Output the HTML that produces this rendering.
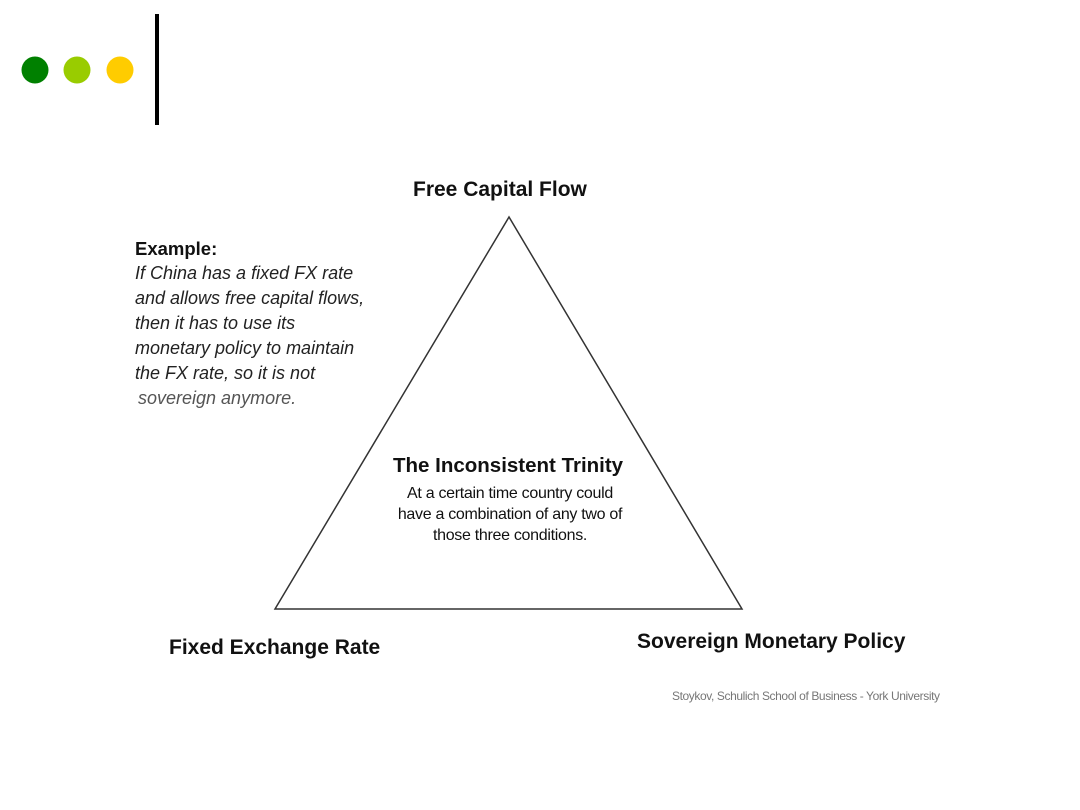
<!DOCTYPE html>
<html><head><style>
body{margin:0;width:1080px;height:810px;background:#fff;position:relative;overflow:hidden;font-family:"Liberation Sans",sans-serif}
.t{position:absolute;white-space:nowrap;color:#111}
.b{font-weight:bold;font-size:21px}
.i{font-style:italic;font-size:18px;line-height:25px;color:#222}
</style></head><body>
<svg width="1080" height="810" style="position:absolute;left:0;top:0">
<circle cx="35" cy="70" r="13.5" fill="#008000"/>
<circle cx="77" cy="70" r="13.5" fill="#99cc00"/>
<circle cx="120" cy="70" r="13.5" fill="#ffcc00"/>
<rect x="155" y="14" width="4" height="111" fill="#000"/>
<polygon points="509,217 275,609 742,609" fill="none" stroke="#333" stroke-width="1.5"/>
</svg>
<div class="t b" style="left:413px;top:178px">Free Capital Flow</div>
<div class="t" style="left:135px;top:238px;font-weight:bold;font-size:18.5px">Example:</div>
<div class="t i" style="left:135px;top:261px">If China has a fixed FX rate<br>and allows free capital flows,<br>then it has to use its<br>monetary policy to maintain<br>the FX rate, so it is not<br><span style="color:#555;margin-left:3px">sovereign anymore.</span></div>
<div class="t" style="left:393px;top:454px;font-weight:bold;font-size:20.5px">The Inconsistent Trinity</div>
<div class="t" style="left:383px;top:483px;width:254px;text-align:center;font-size:16px;line-height:21px;letter-spacing:-0.3px">At a certain time country could<br>have a combination of any two of<br>those three conditions.</div>
<div class="t b" style="left:169px;top:636px">Fixed Exchange Rate</div>
<div class="t b" style="left:637px;top:630px">Sovereign Monetary Policy</div>
<div class="t" style="left:672px;top:689px;font-size:12px;color:#777;letter-spacing:-0.4px">Stoykov, Schulich School of Business - York University</div>
</body></html>
